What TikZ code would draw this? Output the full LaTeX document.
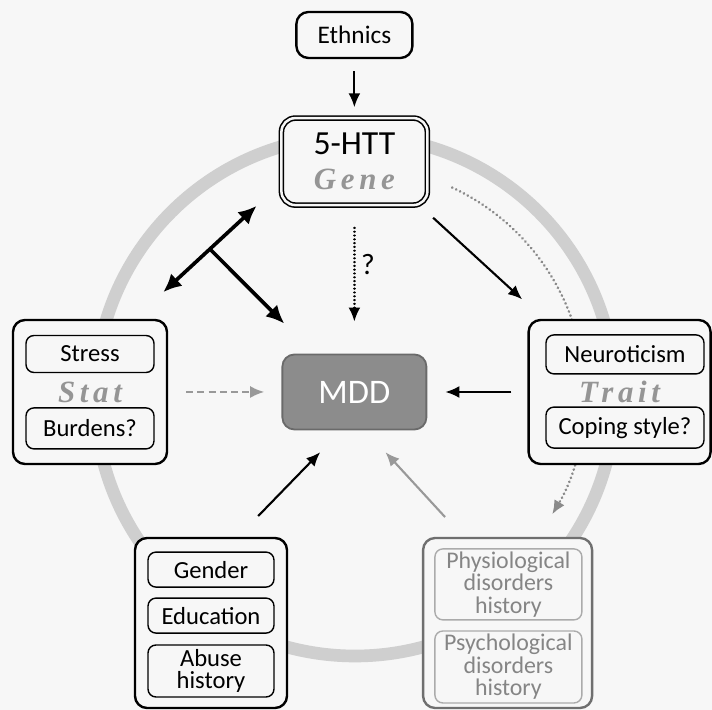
\documentclass[tikz,border=0pt]{standalone}
\usepackage{fontspec}
\setmainfont{Carlito}
\newfontfamily\tagfont[LetterSpace=15]{Liberation Serif}
\usetikzlibrary{arrows.meta,calc}

\definecolor{paper}{HTML}{F7F7F7}
\definecolor{ringgray}{HTML}{CFCFCF}
\definecolor{mddgray}{HTML}{8C8C8C}
\definecolor{mddedge}{HTML}{6A6A6A}
\definecolor{taggray}{HTML}{959595}
\definecolor{histedge}{HTML}{6F6F6F}
\definecolor{histitem}{HTML}{ABABAB}
\definecolor{histtext}{HTML}{858585}
\definecolor{linkgray}{HTML}{999999}
\definecolor{arcgray}{HTML}{8A8A8A}

\tikzset{
    box/.style={draw, line width=1.7pt, rounded corners=0.3cm, fill=paper, inner sep=0pt, align=center},
    item/.style={draw, line width=1pt, rounded corners=0.2cm, fill=paper, inner sep=0pt, align=center, minimum width=3.2cm, font=\fontsize{17.5}{16}\selectfont},
    tagtext/.style={font=\tagfont\fontsize{22}{24}\selectfont\bfseries\itshape, text=taggray},
    link/.style={-{Latex[length=10pt,width=8.5pt]}, line width=1.5pt},
    twoway/.style={{Latex[length=13pt,width=12pt]}-{Latex[length=13pt,width=12pt]}, line width=2.6pt},
    oneway/.style={-{Latex[length=13pt,width=12pt]}, line width=2.6pt},
    dots/.style={dash pattern=on 0.1pt off 3pt, line cap=round, line width=2pt},
}

\begin{document}
\begin{tikzpicture}

    \fill[paper] (0,0) rectangle (17.8,17.75);
    \useasboundingbox (0,0) rectangle (17.8,17.75);

    % grey ring behind all the boxes
    \coordinate (hub) at (8.875,7.85);
    \draw[ringgray, line width=9pt] (hub) circle (6.5);

    % dotted arc from the gene round to the history box
    \draw[dots, arcgray, -{Latex[length=10pt,width=8.5pt]}] ($(hub)+(65:5.75)$) arc[start angle=65, end angle=-31, radius=5.75];

    % gene and its source
    \node[box, minimum width=2.9cm, minimum height=1.15cm, font=\fontsize{18}{20}\selectfont] (ethnics) at (8.86,16.875) {Ethnics};
    \node[box, double=paper, double distance=1.8pt, line width=1.1pt, rounded corners=0.35cm, minimum width=3.65cm, minimum height=2.175cm, font=\fontsize{24}{25}\selectfont] (gene) at (8.86,13.71) {5-HTT\\{\tagfont\fontsize{22}{25}\selectfont\bfseries\itshape\color{taggray}Gene}};

    % the disorder in the middle
    \node[box, fill=mddgray, draw=mddedge, line width=1.3pt, text=white, minimum width=3.6cm, minimum height=1.875cm, font=\fontsize{24.5}{25}\selectfont] (mdd) at (8.86,7.95) {MDD};

    % state box
    \node[box, tagtext, minimum width=3.85cm, minimum height=3.6cm] (stat) at (2.25,7.95) {Stat};
    \node[item, minimum height=0.925cm] (stress) at (2.25,8.9) {Stress};
    \node[item, minimum height=1.025cm] (burdens) at (2.25,7.04) {Burdens?};

    % trait box
    \node[box, tagtext, minimum width=4.55cm, minimum height=3.6cm] (trait) at (15.49,7.95) {Trait};
    \node[item, minimum width=3.95cm, minimum height=0.975cm] (neuro) at (15.625,8.89) {Neuroticism};
    \node[item, minimum width=3.95cm, minimum height=1.025cm] (coping) at (15.625,7.06) {Coping style?};

    % demographic box
    \node[box, minimum width=3.8cm, minimum height=4.25cm] (demog) at (5.275,2.175) {};
    \node[item, minimum width=3.15cm, minimum height=0.875cm] (gender) at (5.275,3.51) {Gender};
    \node[item, minimum width=3.15cm, minimum height=0.875cm] (education) at (5.275,2.36) {Education};
    \node[item, minimum width=3.15cm, minimum height=1.3cm] (abuse) at (5.275,0.975) {Abuse\\history};

    % history box, all in grey
    \node[box, draw=histedge, minimum width=4.225cm, minimum height=4.25cm] (history) at (12.69,2.175) {};
    \node[item, draw=histitem, text=histtext, minimum width=3.675cm, minimum height=1.775cm, font=\fontsize{17}{16}\selectfont] (physio) at (12.71,3.14) {Physiological\\disorders\\history};
    \node[item, draw=histitem, text=histtext, minimum width=3.675cm, minimum height=1.8cm, font=\fontsize{17}{16}\selectfont] (psycho) at (12.71,1.075) {Psychological\\disorders\\history};

    % arrows
    \draw[link, shorten <=0.3cm, shorten >=0.25cm] (ethnics) -- (gene);
    \draw[link, dots, line width=1.6pt, dash pattern=on 0.1pt off 2.6pt, shorten <=0.55cm, shorten >=0.8cm] (gene) -- (mdd) node[pos=0.4, right=4pt, inner sep=0pt, font=\fontsize{21}{21}\selectfont] {?};
    \draw[link, shorten <=0.44cm, shorten >=0.72cm] ([xshift=-0.2cm]gene.south east) -- ([xshift=0.4cm]trait.north west);
    \draw[link, shorten <=0.4cm, shorten >=0.45cm] (trait) -- (mdd);
    \draw[link, linkgray, dash pattern=on 5pt off 3pt, shorten <=0.45cm, shorten >=0.43cm] (stat) -- (mdd);
    \draw[link, shorten <=0.725cm, shorten >=0.76cm] ([xshift=0.675cm]demog.north) -- ([xshift=-0.325cm]mdd.south);
    \draw[link, linkgray, shorten <=0.67cm, shorten >=0.74cm] ([xshift=-1.11cm]history.north) -- ([xshift=0.275cm]mdd.south);

    % gene and stress act on each other and on MDD
    \coordinate (forkstat) at ([shift={(-0.125,0.665)}]stat.north east);
    \coordinate (forkgene) at ([xshift=-0.6cm]gene.south west);
    \coordinate (fork) at ($(forkstat)!0.5!(forkgene)$);
    \draw[twoway] (forkstat) -- (forkgene);
    \draw[oneway] (fork) -- ([shift={(0.07,0.75)}]mdd.north west);

\end{tikzpicture}
\end{document}
